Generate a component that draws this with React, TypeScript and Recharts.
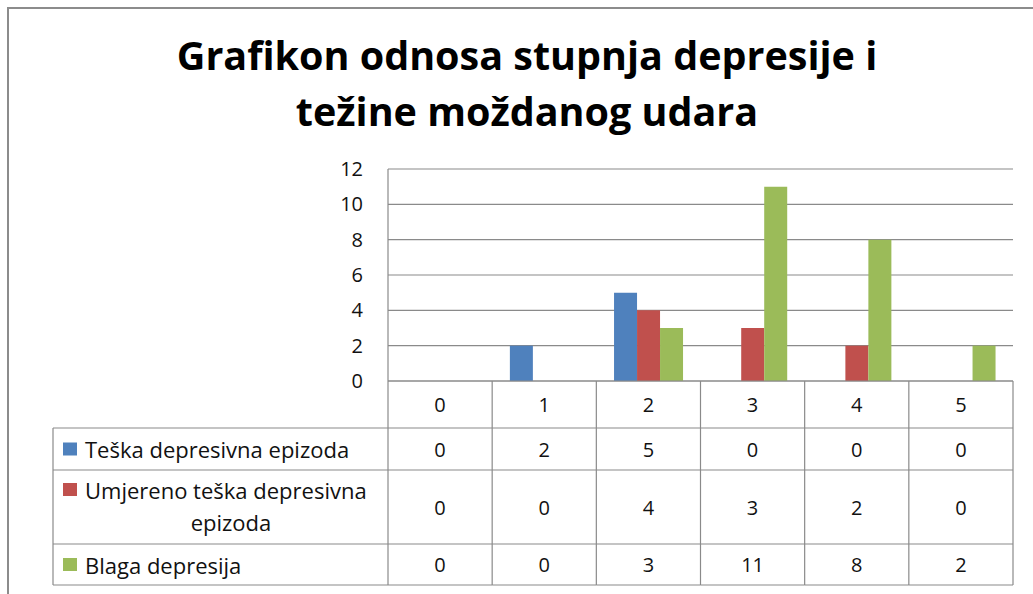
import { Bar, BarChart, CartesianGrid, XAxis, YAxis } from 'recharts'

const categories = ['0', '1', '2', '3', '4', '5']
const teska = [0, 2, 5, 0, 0, 0]
const umjereno = [0, 0, 4, 3, 2, 0]
const blaga = [0, 0, 3, 11, 8, 2]
const yTicks = [0, 2, 4, 6, 8, 10, 12]

const titleLines = ['Grafikon odnosa stupnja depresije i', 'težine moždanog udara']

const series = [
  { key: 'teska', name: 'Teška depresivna epizoda', values: teska, color: '#4F81BD' },
  { key: 'umjereno', name: 'Umjereno teška depresivna epizoda', values: umjereno, color: '#C0504D' },
  { key: 'blaga', name: 'Blaga depresija', values: blaga, color: '#9BBB59' },
]

const data = categories.map((cat, i) => ({
  cat,
  teska: teska[i],
  umjereno: umjereno[i],
  blaga: blaga[i],
}))

// layout
const W = 1033
const H = 594
const PLOT_LEFT = 388
const PLOT_RIGHT = 1013
const PLOT_TOP = 169
const PLOT_BOTTOM = 381
const BAND = (PLOT_RIGHT - PLOT_LEFT) / categories.length
const TABLE_LEFT = 53
const ROWS = [0, 47, 89, 163, 204] // row edges below the axis
const LINE = '#8a8a8a'
const FONT = '"Open Sans", sans-serif'
const FS = 20
const LEG_FS = 22

function TableColumn(props: any) {
  const { x, y, payload, index } = props
  const l = x - BAND / 2
  const r = x + BAND / 2
  const mid = (a: number, b: number) => y + (ROWS[a] + ROWS[b]) / 2
  return (
    <g>
      <line x1={r} y1={y} x2={r} y2={y + ROWS[4]} stroke={LINE} strokeWidth={1.2} />
      {index === 0 && <line x1={l} y1={y} x2={l} y2={y + ROWS[4]} stroke={LINE} strokeWidth={1.2} />}
      {ROWS.slice(1).map((ry) => (
        <line key={ry} x1={l} y1={y + ry} x2={r} y2={y + ry} stroke={LINE} strokeWidth={1.2} />
      ))}
      <text x={x} y={mid(0, 1)} textAnchor="middle" dominantBaseline="central" fontSize={FS} fill="#111">
        {payload.value}
      </text>
      {series.map((s, si) => (
        <text key={s.key} x={x} y={mid(si + 1, si + 2)} textAnchor="middle" dominantBaseline="central" fontSize={FS} fill="#111">
          {s.values[index]}
        </text>
      ))}
      {index === 0 && (
        <g>
          {ROWS.slice(1).map((ry) => (
            <line key={ry} x1={TABLE_LEFT} y1={y + ry} x2={l} y2={y + ry} stroke={LINE} strokeWidth={1.2} />
          ))}
          <line x1={TABLE_LEFT} y1={y + ROWS[1]} x2={TABLE_LEFT} y2={y + ROWS[4]} stroke={LINE} strokeWidth={1.2} />
          {/* row 1 */}
          <rect x={63} y={mid(1, 2) - 6.5} width={14} height={13} fill={series[0].color} />
          <text x={85} y={mid(1, 2)} dominantBaseline="central" fontSize={LEG_FS} fill="#111">{series[0].name}</text>
          {/* row 2, wrapped */}
          <rect x={63} y={mid(2, 3) - 24} width={14} height={13} fill={series[1].color} />
          <text x={85} y={mid(2, 3) - 17} dominantBaseline="central" fontSize={LEG_FS} fill="#111">Umjereno teška depresivna</text>
          <text x={231} y={mid(2, 3) + 15} textAnchor="middle" dominantBaseline="central" fontSize={LEG_FS} fill="#111">epizoda</text>
          {/* row 3 */}
          <rect x={63} y={mid(3, 4) - 6.5} width={14} height={13} fill={series[2].color} />
          <text x={85} y={mid(3, 4)} dominantBaseline="central" fontSize={LEG_FS} fill="#111">{series[2].name}</text>
        </g>
      )}
    </g>
  )
}

export default function App() {
  return (
    <div style={{ position: 'relative', width: W, height: H, overflow: 'hidden', fontFamily: FONT, background: '#fff' }}>
      <style>{'body{margin:0;overflow:hidden}'}</style>
      <div
        style={{
          position: 'absolute',
          left: 7,
          top: 7,
          width: 1060,
          height: 620,
          border: '2px solid #8c8c8c',
          boxSizing: 'border-box',
        }}
      />
      <svg width={W} height={150} style={{ position: 'absolute', left: 0, top: 0 }}>
        <text x={527} y={70} textAnchor="middle" fontSize={39.5} fontWeight={700} fill="#000" fontFamily={FONT}>
          {titleLines[0]}
        </text>
        <text x={527} y={126} textAnchor="middle" fontSize={39.5} fontWeight={700} fill="#000" fontFamily={FONT}>
          {titleLines[1]}
        </text>
      </svg>
      <div style={{ position: 'absolute', left: 0, top: 0 }}>
        <BarChart
          width={W}
          height={H}
          data={data}
          margin={{ top: PLOT_TOP, right: W - PLOT_RIGHT, left: PLOT_LEFT - 60, bottom: 0 }}
          barCategoryGap="17%"
          barGap={0}
        >
          <CartesianGrid horizontal vertical={false} stroke={LINE} strokeWidth={1.2} />
          <YAxis
            width={60}
            domain={[0, 12]}
            ticks={yTicks}
            interval={0}
            axisLine={{ stroke: LINE, strokeWidth: 1.2 }}
            tickLine={false}
            tickMargin={19}
            tick={{ fill: '#111', fontSize: FS }}
          />
          <XAxis
            dataKey="cat"
            height={H - PLOT_BOTTOM}
            axisLine={{ stroke: LINE, strokeWidth: 1.2 }}
            tickLine={false}
            tickSize={0}
            tickMargin={0}
            interval={0}
            tick={<TableColumn />}
          />
          {series.map((s) => (
            <Bar key={s.key} dataKey={s.key} name={s.name} fill={s.color} isAnimationActive={false} />
          ))}
        </BarChart>
      </div>
    </div>
  )
}
